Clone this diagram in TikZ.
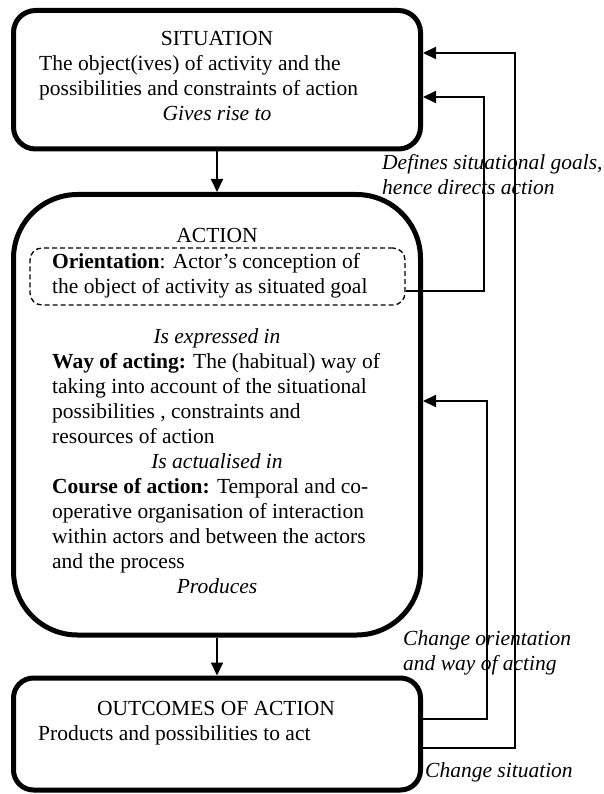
\documentclass[tikz,border=0pt]{standalone}
\usepackage{fontspec}
\setmainfont{Liberation Serif}
\usetikzlibrary{arrows.meta}

\tikzset{
  bigbox/.style={draw,line width=5pt,inner sep=0pt},
  orientbox/.style={draw,line width=1.3pt,dash pattern=on 5pt off 3pt,
                    rounded corners=12pt,inner sep=0pt},
  link/.style={line width=2pt,-{Triangle[length=13pt,width=12pt]}},
  txt/.style={inner sep=0pt,font=\fontsize{21.5}{25}\selectfont},
  lefttxt/.style={txt,anchor=base west,align=left},
  midtxt/.style={txt,anchor=base},
}

\begin{document}
\begin{tikzpicture}[x=1pt,y=-1pt]
  \useasboundingbox (0,0) rectangle (604,794);
  % the three boxes
  \node[bigbox,rounded corners=22pt,minimum width=407pt,minimum height=138.5pt]
       (situation) at (217,79.75) {};
  \node[bigbox,rounded corners=64pt,minimum width=407pt,minimum height=440.5pt]
       (action) at (217,414.75) {};
  \node[bigbox,rounded corners=20pt,minimum width=407pt,minimum height=112pt]
       (outcome) at (217,734) {};
  \node[orientbox,minimum width=375pt,minimum height=57pt] (orient) at (217.5,276.5) {};

  % situation
  \node[midtxt] (sittitle) at (217,46) {SITUATION};
  \node[lefttxt] (sitbody) at (39,71) {The object(ives) of activity and the};
  \node[lefttxt] (sitbodyb) at (39,96) {possibilities and constraints of action};
  \node[midtxt] (givesrise) at (217,121) {\itshape Gives rise to};

  % action
  \node[midtxt] (acttitle) at (217,243) {ACTION};
  \node[lefttxt] (orienta) at (52,268) {\textbf{Orientation}: Actor’s conception of};
  \node[lefttxt] (orientb) at (52,293) {the object of activity as situated goal};
  \node[midtxt] (expressed) at (217,343) {\itshape Is expressed in};
  \node[lefttxt] (waya) at (52,368) {\textbf{Way of acting:} The (habitual) way of};
  \node[lefttxt] (wayb) at (52,393) {taking into account of the situational};
  \node[lefttxt] (wayc) at (52,418) {possibilities , constraints and};
  \node[lefttxt] (wayd) at (52,443) {resources of action};
  \node[midtxt] (actualised) at (217,468) {\itshape Is actualised in};
  \node[lefttxt] (coursea) at (52,493) {\textbf{Course of action:} Temporal and co-};
  \node[lefttxt] (courseb) at (52,518) {operative organisation of interaction};
  \node[lefttxt] (coursec) at (52,543) {within actors and between the actors};
  \node[lefttxt] (coursed) at (52,568) {and the process};
  \node[midtxt] (produces) at (217,593) {\itshape Produces};

  % outcomes
  \node[midtxt] (outtitle) at (216,715) {OUTCOMES OF ACTION};
  \node[lefttxt] (outbody) at (38,740) {Products and possibilities to act};

  % connectors
  \draw[link] (situation) -- (action);
  \draw[link] (action) -- (outcome);
  \draw[link] ([yshift=-14.5pt]orient.east) -| (484,97) -- (situation.east |- 0,97);
  \draw[link] (outcome.east |- 0,719) -| (487,401) -- (action.east |- 0,401);
  \draw[link] (outcome.east |- 0,748) -| (515,53) -- (situation.east |- 0,53);

  % labels on the feedback lines
  \node[lefttxt,font=\fontsize{21.5}{25}\selectfont\itshape] (defines) at (382,170)
       {Defines situational goals,};
  \node[lefttxt,font=\fontsize{21.5}{25}\selectfont\itshape] (definesb) at (382,195)
       {hence directs action};
  \node[lefttxt,font=\fontsize{21.5}{25}\selectfont\itshape] (changeor) at (403,645)
       {Change orientation};
  \node[lefttxt,font=\fontsize{21.5}{25}\selectfont\itshape] (changeorb) at (403,670)
       {and way of acting};
  \node[lefttxt,font=\fontsize{21.5}{25}\selectfont\itshape] (changesit) at (425,777)
       {Change situation};
\end{tikzpicture}
\end{document}
